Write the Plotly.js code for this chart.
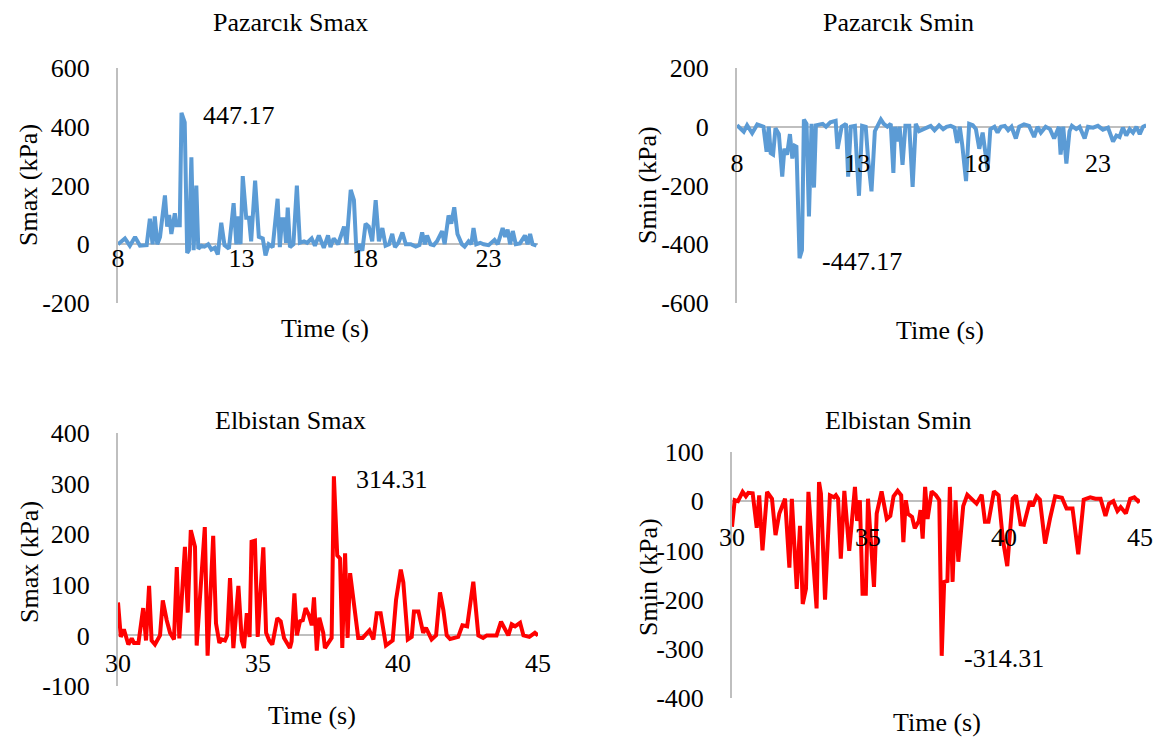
<!DOCTYPE html>
<html>
<head>
<meta charset="utf-8">
<script src="https://cdn.plot.ly/plotly-3.0.1.min.js"></script>
<style>html,body{margin:0;padding:0;background:#fff;}#chart{width:1161px;height:738px;}</style>
</head>
<body>
<div id="chart"></div>
<script>
// ---------------- DATA ----------------
const pzTimeMax = [8.00,8.28,8.48,8.69,8.89,9.16,9.29,9.40,9.49,9.59,9.70,9.90,9.99,10.07,10.16,10.30,10.37,10.50,10.57,10.70,10.80,10.87,10.97,11.06,11.17,11.25,11.38,11.50,11.65,11.78,11.92,12.04,12.18,12.31,12.49,12.68,12.79,12.88,12.96,13.05,13.19,13.30,13.39,13.55,13.70,13.86,13.97,14.10,14.26,14.46,14.55,14.64,14.73,14.80,14.87,14.96,15.10,15.24,15.36,15.53,15.66,15.84,15.97,16.13,16.33,16.50,16.60,16.73,16.91,17.15,17.25,17.42,17.55,17.65,17.78,17.89,18.02,18.15,18.29,18.43,18.56,18.70,18.83,18.97,19.10,19.21,19.35,19.51,19.65,19.85,20.05,20.20,20.31,20.42,20.51,20.65,20.78,20.91,21.12,21.22,21.38,21.49,21.61,21.74,21.92,22.03,22.19,22.30,22.39,22.50,22.66,22.80,23.00,23.24,23.37,23.57,23.67,23.77,23.87,23.98,24.10,24.27,24.47,24.58,24.68,24.78,24.94];
const pzSmax = [0,20,-5,25,-5,-3,87,0,95,0,25,166,60,100,35,105,65,65,447.17,415,-30,-20,296,-20,200,-15,-5,-8,0,-18,-12,-35,73,-3,-15,140,0,95,0,232,90,90,10,217,25,20,-38,0,-10,155,-10,85,85,5,125,-10,0,200,5,10,5,20,-5,30,-12,30,-10,20,0,60,0,185,150,-25,0,-22,70,60,10,150,10,55,-5,0,35,-10,5,40,0,0,-8,-3,40,0,30,0,-3,10,45,0,98,70,126,35,0,-8,10,0,55,0,5,0,-3,15,0,55,25,50,0,45,0,3,30,0,35,0,-5];

const pzTimeMin = [8.00,8.28,8.42,8.63,8.84,9.10,9.23,9.32,9.40,9.50,9.60,9.74,9.88,9.97,10.08,10.20,10.30,10.40,10.47,10.60,10.70,10.78,10.89,10.99,11.10,11.20,11.28,11.38,11.56,11.70,11.88,12.10,12.18,12.35,12.53,12.62,12.73,12.90,13.07,13.20,13.35,13.45,13.59,13.73,13.84,13.98,14.10,14.25,14.39,14.50,14.57,14.67,14.76,14.88,15.00,15.16,15.30,15.43,15.57,15.75,15.91,16.05,16.21,16.40,16.57,16.71,16.88,17.04,17.15,17.26,17.36,17.52,17.65,17.80,17.93,18.07,18.21,18.42,18.53,18.70,18.83,18.97,19.13,19.27,19.41,19.59,19.73,19.93,20.14,20.35,20.49,20.63,20.83,21.01,21.18,21.38,21.45,21.56,21.69,21.82,21.92,22.10,22.24,22.45,22.59,22.80,23.00,23.21,23.42,23.63,23.77,23.90,24.04,24.18,24.32,24.46,24.60,24.74,24.88,25.01];
const pzSmin = [5,-17,5,-22,8,0,-85,0,-90,-95,-5,-25,-170,-75,-95,-25,-108,-65,-68,-447.17,-420,25,10,-305,10,-207,5,8,10,0,15,20,-75,0,10,-170,0,3,-235,3,0,-110,-220,-15,0,25,10,0,10,-157,0,-50,0,-130,3,3,-205,10,-15,-8,0,3,-12,5,-8,0,3,-3,-55,0,-60,-185,10,5,-8,-75,-20,-146,-8,0,-20,0,3,-12,0,-40,0,8,3,-35,0,-20,0,-8,-40,0,-95,0,-125,-15,3,-8,0,-40,0,-3,3,-10,-3,-50,-30,-35,-3,-30,-8,-20,0,-25,0,5];

const elTimeMax = [30.00,30.10,30.21,30.37,30.49,30.57,30.73,30.90,31.00,31.11,31.20,31.32,31.50,31.60,31.74,31.86,32.00,32.10,32.19,32.39,32.49,32.60,32.75,32.81,33.10,33.20,33.40,33.50,33.62,33.70,33.82,33.90,34.00,34.12,34.30,34.42,34.50,34.60,34.70,34.77,34.89,34.99,35.19,35.29,35.40,35.51,35.69,35.81,35.93,36.14,36.20,36.30,36.39,36.50,36.60,36.70,36.82,36.92,37.00,37.10,37.19,37.33,37.39,37.63,37.71,37.83,37.93,38.01,38.11,38.20,38.29,38.40,38.58,38.74,38.98,39.12,39.24,39.38,39.57,39.81,39.93,40.10,40.19,40.35,40.49,40.57,40.73,40.90,41.00,41.20,41.36,41.50,41.62,41.74,41.86,42.15,42.30,42.47,42.69,42.87,43.04,43.17,43.52,43.68,43.82,43.94,44.06,44.18,44.36,44.48,44.69,44.89,45.00];
const elSmax = [65,-3,12,-18,-6,-15,-15,54,-10,98,-10,-18,0,69,30,5,-8,135,-6,175,45,208,175,-20,214,-40,197,24,-15,-8,-10,0,113,-25,98,-10,-25,44,-3,185,187,-3,174,5,-10,-18,34,28,-5,-25,-12,83,0,28,30,54,40,20,75,-30,35,5,-25,-5,314.31,158,152,-25,162,-5,123,75,-5,-5,10,-8,44,44,-20,-10,70,130,105,-8,-3,47,47,5,15,-8,0,85,50,0,-7,-3,20,18,106,0,-5,0,0,27,10,0,22,18,25,0,-3,5,0];

const elTimeMin = [30.00,30.10,30.22,30.39,30.51,30.60,30.76,30.91,31.00,31.12,31.29,31.47,31.60,31.74,31.95,32.11,32.20,32.38,32.50,32.60,32.72,32.81,33.11,33.20,33.27,33.42,33.60,33.75,33.82,33.90,34.00,34.13,34.31,34.52,34.60,34.70,34.80,34.92,35.00,35.22,35.32,35.50,35.69,35.82,35.94,36.09,36.22,36.30,36.39,36.47,36.62,36.72,36.87,36.93,37.01,37.10,37.19,37.34,37.50,37.62,37.71,37.80,37.92,38.01,38.11,38.22,38.32,38.50,38.65,38.81,38.99,39.18,39.30,39.43,39.63,39.80,39.96,40.12,40.32,40.44,40.61,40.73,40.95,41.05,41.20,41.32,41.51,41.70,41.88,42.13,42.30,42.52,42.73,42.93,43.17,43.36,43.55,43.73,43.86,44.02,44.17,44.29,44.48,44.64,44.79,44.93,45.00];
const elSmin = [-52,2,0,19,10,17,16,-54,12,-100,19,5,-69,-25,5,-135,5,-178,-50,-209,-178,19,-218,39,15,-200,12,8,12,5,-117,21,-101,29,-40,2,-188,-188,5,-174,-25,20,-36,-30,10,21,12,-83,2,-26,-32,-55,-40,-18,-76,29,-36,20,12,2,-314.31,-164,-162,29,-164,2,-123,-10,13,5,-5,13,-42,-42,20,12,-79,-132,5,12,-47,-48,0,-10,10,3,-86,-33,10,7,-15,-15,-108,3,8,5,5,-30,-5,0,-20,-12,-25,5,8,0,3];

const pzTicks = [8, 13, 18, 23];
const elTicks = [30, 35, 40, 45];
const pzMaxYTicks = [-200, 0, 200, 400, 600];
const pzMinYTicks = [-600, -400, -200, 0, 200];
const elMaxYTicks = [-100, 0, 100, 200, 300, 400];
const elMinYTicks = [-400, -300, -200, -100, 0, 100];
const titles = ['Pazarcık Smax', 'Pazarcık Smin', 'Elbistan Smax', 'Elbistan Smin'];
const yTitles = ['Smax (kPa)', 'Smin (kPa)', 'Smax (kPa)', 'Smin (kPa)'];
const xTitle = 'Time (s)';

// ---------------- STYLE / LAYOUT ----------------
const W = 1161, H = 738;
const fx = px => px / W;
const fy = py => 1 - py / H;
const FONT = 'Liberation Serif, Times New Roman, serif';
const FS = 26;
const BLUE = '#5b9bd5', RED = '#ff0000', GRAY = '#bfbfbf';
const lbl = v => (v < 0 ? '-' + Math.abs(v) : String(v));

function peak(arr, sign) {
  let idx = 0;
  for (let i = 1; i < arr.length; i++) if (sign * arr[i] > sign * arr[idx]) idx = i;
  return idx;
}

const traces = [
  {x: pzTimeMax, y: pzSmax, xaxis: 'x', yaxis: 'y', color: BLUE},
  {x: pzTimeMin, y: pzSmin, xaxis: 'x2', yaxis: 'y2', color: BLUE},
  {x: elTimeMax, y: elSmax, xaxis: 'x3', yaxis: 'y3', color: RED},
  {x: elTimeMin, y: elSmin, xaxis: 'x4', yaxis: 'y4', color: RED}
].map(t => ({
  type: 'scatter', mode: 'lines', x: t.x, y: t.y, xaxis: t.xaxis, yaxis: t.yaxis,
  line: {color: t.color, width: 4, shape: 'linear'}, hoverinfo: 'skip', showlegend: false, cliponaxis: false
}));

// panel geometry in pixels
const panels = [
  {x0: 118, x1: 538, y0: 68, y1: 303, yr: [-200, 600], yt: pzMaxYTicks, xr: [8, 25], ticks: pzTicks, xlab: 240,
   title: [290, 22], ytitle: [29, 185], xtitle: [325, 328], data: pzSmax, time: pzTimeMax, sign: 1},
  {x0: 737, x1: 1146, y0: 68, y1: 303, yr: [-600, 200], yt: pzMinYTicks, xr: [8, 25], ticks: pzTicks, xlab: 145,
   title: [898, 22], ytitle: [648, 185], xtitle: [940, 330], data: pzSmin, time: pzTimeMin, sign: -1},
  {x0: 118, x1: 538, y0: 433, y1: 686, yr: [-100, 400], yt: elMaxYTicks, xr: [30, 45], ticks: elTicks, xlab: 645,
   title: [290, 420], ytitle: [29, 562], xtitle: [312, 715], data: elSmax, time: elTimeMax, sign: 1},
  {x0: 732, x1: 1140, y0: 452, y1: 698, yr: [-400, 100], yt: elMinYTicks, xr: [30, 45], ticks: elTicks, xlab: 519,
   title: [898, 420], ytitle: [648, 577], xtitle: [937, 722], data: elSmin, time: elTimeMin, sign: -1}
];

const layout = {
  width: W, height: H, margin: {l: 0, r: 0, t: 0, b: 0},
  paper_bgcolor: '#fff', plot_bgcolor: 'rgba(0,0,0,0)',
  font: {family: FONT, size: FS, color: '#000'},
  showlegend: false, annotations: []
};

panels.forEach((p, i) => {
  const n = i === 0 ? '' : String(i + 1);
  layout['xaxis' + n] = {
    domain: [fx(p.x0), fx(p.x1)], range: p.xr, anchor: 'free', position: fy(p.xlab),
    showgrid: false, zeroline: false, showline: false, ticks: '',
    tickvals: p.ticks, ticktext: p.ticks.map(lbl), tickfont: {family: FONT, size: FS, color: '#000'},
    fixedrange: true
  };
  layout['yaxis' + n] = {
    domain: [fy(p.y1), fy(p.y0)], range: p.yr, anchor: 'x' + n,
    tickvals: p.yt, ticktext: p.yt.map(lbl),
    showgrid: false, zeroline: true, zerolinecolor: GRAY, zerolinewidth: 2,
    showline: true, linecolor: GRAY, linewidth: 2, ticks: '', ticklabelstandoff: 21,
    tickfont: {family: FONT, size: FS, color: '#000'}, fixedrange: true
  };
  layout.annotations.push(
    {xref: 'paper', yref: 'paper', x: fx(p.title[0]), y: fy(p.title[1]), text: titles[i], showarrow: false,
     xanchor: 'center', yanchor: 'middle', font: {family: FONT, size: FS}},
    {xref: 'paper', yref: 'paper', x: fx(p.ytitle[0]), y: fy(p.ytitle[1]), text: yTitles[i], showarrow: false,
     textangle: -90, xanchor: 'center', yanchor: 'middle', font: {family: FONT, size: FS}},
    {xref: 'paper', yref: 'paper', x: fx(p.xtitle[0]), y: fy(p.xtitle[1]), text: xTitle, showarrow: false,
     xanchor: 'center', yanchor: 'middle', font: {family: FONT, size: FS}}
  );
  const k = peak(p.data, p.sign);
  layout.annotations.push({
    xref: 'x' + n, yref: 'y' + n, x: p.time[k], y: p.data[k], text: p.data[k].toFixed(2),
    showarrow: false, xanchor: 'left', yanchor: 'middle', xshift: 20, yshift: -3,
    font: {family: FONT, size: FS}
  });
});

Plotly.newPlot('chart', traces, layout, {staticPlot: true, displayModeBar: false});
</script>
</body>
</html>
